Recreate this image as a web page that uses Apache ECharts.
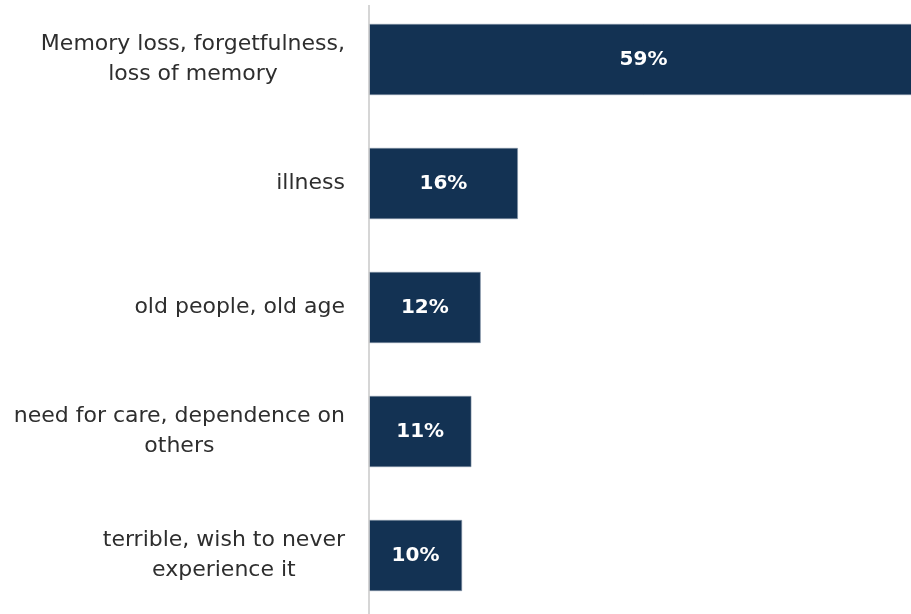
<!DOCTYPE html>
<html>
<head>
<meta charset="utf-8">
<script src="https://cdn.jsdelivr.net/npm/echarts@6/dist/echarts.min.js"></script>
<style>
  html, body { margin: 0; padding: 0; background: #ffffff; overflow: hidden; }
  #chart { width: 918px; height: 621px; margin-top: -3px; }
</style>
</head>
<body>
<div id="chart"></div>
<script>
// Associations, top to bottom
const categories = [
  'Memory loss, forgetfulness,\nloss of memory',
  'illness',
  'old people, old age',
  'need for care, dependence on\nothers',
  'terrible, wish to never\nexperience it'
];
const shares = [59, 16, 12, 11, 10];

const GRID_LEFT = 369;

const chart = echarts.init(document.getElementById('chart'), null, { renderer: 'canvas' });
chart.setOption({
  animation: false,
  backgroundColor: '#ffffff',
  grid: { left: GRID_LEFT, right: 0, top: 0.5, bottom: 0.5, containLabel: false },
  xAxis: {
    type: 'value', min: 0, max: 59,
    show: false
  },
  yAxis: {
    type: 'category',
    inverse: true,
    data: categories,
    axisLine: { show: false },
    axisTick: { show: false },
    axisLabel: {
      margin: 24,
      align: 'right',
      // each line centred inside the right-aligned label block
      formatter: (v) => v.split('\n').map((s) => '{c|' + s + '}').join('\n'),
      rich: {
        c: {
          align: 'center',
          color: '#2e2e2e',
          fontFamily: 'DejaVu Sans',
          fontSize: 22,
          lineHeight: 30
        }
      }
    }
  },
  // baseline rule, starting a little below the top edge
  graphic: [{
    type: 'line',
    z: 10,
    shape: { x1: GRID_LEFT, y1: 8, x2: GRID_LEFT, y2: 621 },
    style: { stroke: '#c8c8c8', lineWidth: 1.5 }
  }],
  series: [{
    type: 'bar',
    data: shares,
    barCategoryGap: '42.7%',
    itemStyle: { color: '#133253', borderColor: '#8796a8', borderWidth: 0.6 },
    label: {
      show: true,
      position: 'inside',
      formatter: '{c}%',
      color: '#ffffff',
      fontFamily: 'DejaVu Sans',
      fontWeight: 'bold',
      fontSize: 20
    }
  }]
});
</script>
</body>
</html>
